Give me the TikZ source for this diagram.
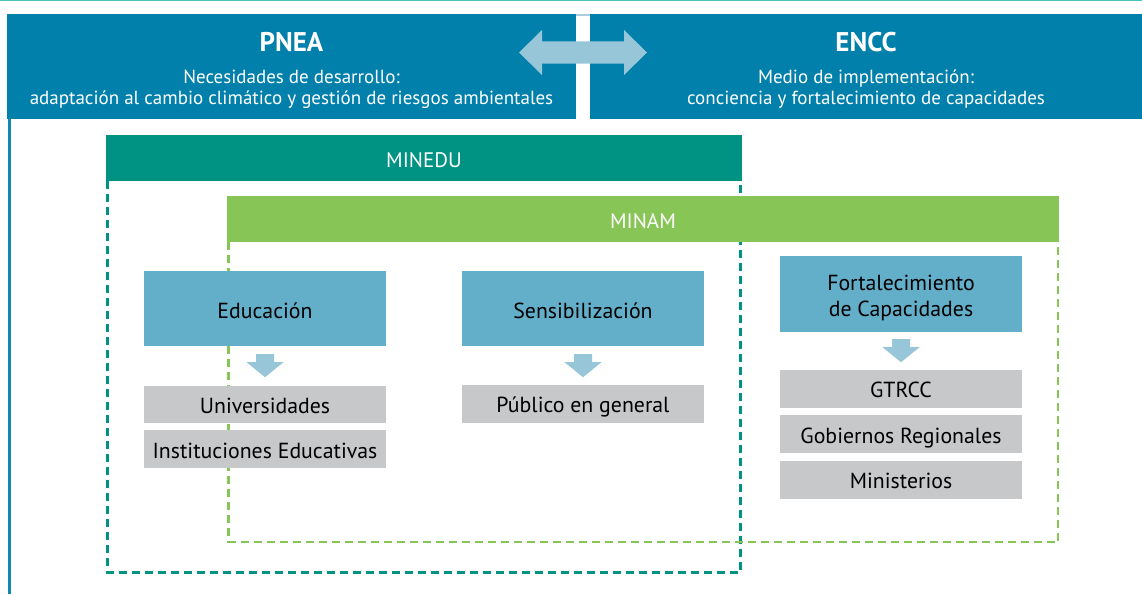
\documentclass[tikz,border=0pt]{standalone}
\usepackage{fontspec}
\setmainfont{PT Sans}
\usetikzlibrary{calc}
\definecolor{hdrblue}{RGB}{0,128,171}
\definecolor{lineblue}{RGB}{18,137,181}
\definecolor{toplinec}{RGB}{75,196,192}
\definecolor{mineduc}{RGB}{0,147,132}
\definecolor{minamc}{RGB}{136,197,87}
\definecolor{boxblue}{RGB}{99,175,202}
\definecolor{arrowc}{RGB}{152,198,217}
\definecolor{grayc}{RGB}{199,200,202}
\definecolor{gapc}{RGB}{170,205,222}
\tikzset{
  hdr/.style={fill=hdrblue, draw=none, inner sep=0pt, minimum height=105pt},
  band/.style={draw=none, inner sep=0pt, minimum height=46pt},
  bluebox/.style={fill=boxblue, draw=none, inner sep=0pt, minimum width=242pt},
  graybox/.style={fill=grayc, draw=none, inner sep=0pt, minimum width=242pt, minimum height=38pt},
  title/.style={anchor=base, text=white, font=\fontsize{27}{32}\selectfont\bfseries, inner sep=0pt},
  sub/.style={anchor=base, text=white, font=\fontsize{19}{22}\selectfont, inner sep=0pt},
  bandtxt/.style={anchor=base, text=white, font=\fontsize{21}{25}\selectfont, inner sep=0pt},
  boxtxt/.style={anchor=base, text=black, font=\fontsize{21.8}{25}\selectfont, inner sep=0pt},
  tealdash/.style={draw=mineduc, line width=2.5pt, dash pattern=on 8pt off 5pt},
  greendash/.style={draw=minamc, line width=2.5pt, dash pattern=on 8pt off 5pt},
  downarr/.pic={\fill[arrowc] (-9,0) -- (9,0) -- (9,8) -- (18.5,8) -- (0,23) -- (-18.5,8) -- (-9,8) -- cycle;},
  bothways/.pic={\fill[arrowc] (-64,0) -- (-41,-22.5) -- (-41,-11) -- (41,-11) -- (41,-22.5) -- (64,0) -- (41,22.5) -- (41,11) -- (-41,11) -- (-41,22.5) -- cycle;}
}
\begin{document}
\begin{tikzpicture}[x=1pt,y=-1pt]
\useasboundingbox (0,0) rectangle (1142,594);
\fill[white] (0,0) rectangle (1142,594);
% top line
\fill[toplinec] (0,0) rectangle (1142,1.5);
% left vertical line
\fill[lineblue] (8,119) rectangle (10.5,594);
% header boxes
\node[hdr, minimum width=569pt] (pnea) at (291.5,66.5) {};
\node[hdr, minimum width=552pt] (encc) at (866,66.5) {};
\fill[gapc] (pnea.north east) rectangle ($(encc.north west)+(0,2)$);
\node[title] (pneat) at ($(pnea.center)+(0,-14.5)$) {PNEA};
\node[sub] (pneas1) at ($(pnea.center)+(0,16.5)$) {Necesidades de desarrollo:};
\node[sub] (pneas2) at ($(pnea.center)+(0,38)$) {adaptación al cambio climático y gestión de riesgos ambientales};
\node[title] (encct) at ($(encc.center)+(0,-14.5)$) {ENCC};
\node[sub] (enccs1) at ($(encc.center)+(0,16.5)$) {Medio de implementación:};
\node[sub] (enccs2) at ($(encc.center)+(0,38)$) {conciencia y fortalecimiento de capacidades};
\pic at ($(pnea.east)!0.5!(encc.west)+(0,-14)$) {bothways};
% MINEDU dashed frame
\draw[tealdash] (107.5,181) -- (107.5,572.5) -- (740.5,572.5) -- (740.5,181);
% MINAM dashed frame
\draw[greendash] (228.5,242) -- (228.5,542) -- (1058,542) -- (1058,242);
% bands
\node[band, fill=mineduc, minimum width=636pt] (minedu) at (424,158) {};
\node[bandtxt] (minedut) at ($(minedu.center)+(0,9)$) {MINEDU};
\node[band, fill=minamc, minimum width=832pt] (minam) at (643,219) {};
\node[bandtxt] (minamt) at ($(minam.center)+(0,9)$) {MINAM};
% blue boxes
\node[bluebox, minimum height=75pt] (edu) at (265,308.5) {};
\node[boxtxt] (edut) at ($(edu.center)+(0,9.5)$) {Educación};
\node[bluebox, minimum height=75pt] (sens) at (583,308.5) {};
\node[boxtxt] (senst) at ($(sens.center)+(0,9.5)$) {Sensibilización};
\node[bluebox, minimum height=76pt] (fort) at (901,294) {};
\node[boxtxt] (fortt1) at ($(fort.center)+(0,-4)$) {Fortalecimiento};
\node[boxtxt] (fortt2) at ($(fort.center)+(0,22)$) {de Capacidades};
% arrows
\pic at ($(edu.south)+(0,8)$) {downarr};
\pic at ($(sens.south)+(0,8)$) {downarr};
\pic at ($(fort.south)+(0,7)$) {downarr};
% gray boxes
\node[graybox, minimum height=37pt] (univ) at (265,404.5) {};
\node[boxtxt] (univt) at ($(univ.center)+(0,8.5)$) {Universidades};
\node[graybox] (inst) at (265,449) {};
\node[boxtxt] (instt) at ($(inst.center)+(0,9)$) {Instituciones Educativas};
\node[graybox] (pub) at (583,404) {};
\node[boxtxt] (pubt) at ($(pub.center)+(0,8)$) {Público en general};
\node[graybox] (gtrcc) at (901,389) {};
\node[boxtxt] (gtrcct) at ($(gtrcc.center)+(0,8)$) {GTRCC};
\node[graybox] (gob) at (901,434) {};
\node[boxtxt] (gobt) at ($(gob.center)+(0,9)$) {Gobiernos Regionales};
\node[graybox] (mini) at (901,480) {};
\node[boxtxt] (minit) at ($(mini.center)+(0,8)$) {Ministerios};
\end{tikzpicture}
\end{document}
